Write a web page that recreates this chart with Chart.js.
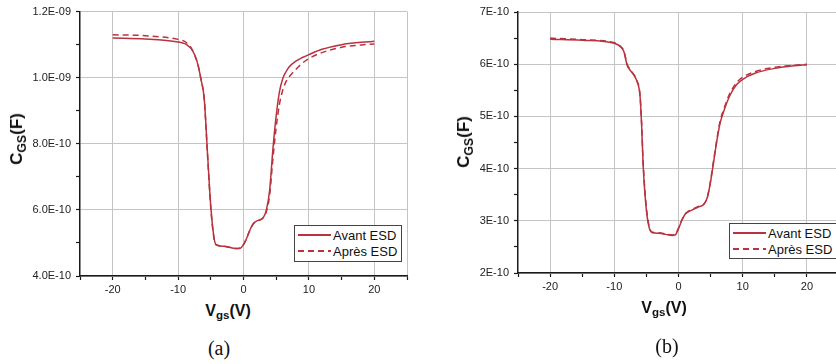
<!DOCTYPE html>
<html>
<head>
<meta charset="utf-8">
<script src="https://cdn.jsdelivr.net/npm/chart.js@4/dist/chart.umd.min.js"></script>
<style>
  body { margin: 0; width: 836px; height: 364px; overflow: hidden; position: relative; background: #fff; font-family: 'Liberation Sans', Arial, sans-serif; }
  canvas { position: absolute; top: 0; }
  .ytitle, .xtitle { position: absolute; font-weight: bold; color: #111; white-space: nowrap; }
  .ytitle { font-size: 17px; transform: translate(-50%, -50%) rotate(-90deg); }
  .xtitle { font-size: 16px; transform: translate(-50%, -50%); }
  .sub { font-size: 0.72em; position: relative; top: 0.3em; }
  .caption { position: absolute; font-family: 'Liberation Serif', 'Times New Roman', serif; font-size: 20px; color: #111; transform: translate(-50%, -50%); }
  .legend { position: absolute; border: 1px solid #444; background: #fff; font-size: 13px; color: #111; padding: 1px 3px; box-sizing: border-box; }
  .legend .row { display: flex; align-items: center; height: 16px; }
  .legend .sample { width: 33px; height: 1.6px; margin-right: 2px; }
</style>
</head>
<body>
<canvas id="chartA" width="420" height="300" style="left:0px"></canvas>
<canvas id="chartB" width="422" height="300" style="left:420px"></canvas>

<div class="ytitle" style="left:17px; top:139px">C<span class="sub">GS</span>(F)</div>
<div class="xtitle" style="left:228px; top:311px">V<span class="sub">gs</span>(V)</div>
<div class="caption" style="left:219px; top:348px">(a)</div>
<div id="legendA" class="legend" style="left:294px; top:225px; width:108px; height:37px"></div>

<div class="ytitle" style="left:464px; top:142px">C<span class="sub">GS</span>(F)</div>
<div class="xtitle" style="left:664px; top:308px">V<span class="sub">gs</span>(V)</div>
<div class="caption" style="left:667px; top:346px">(b)</div>
<div id="legendB" class="legend" style="left:729px; top:223px; width:110px; height:36px"></div>

<script>
// C-V curves before / after ESD stress
// capacitance values are in units of 1E-10 F

const seriesLabels = ['Avant ESD', 'Après ESD'];
const lineColor = '#b9323e';

// x axis (shared by both plots)
const xTickValues = [-25, -20, -15, -10, -5, 0, 5, 10, 15, 20, 25];
const xTickLabels = ['', '-20', '', '-10', '', '0', '', '10', '', '20', ''];

// plot (a)
const vgsA = [-20, -15, -10, -9, -8.5, -8, -7.5, -7, -6.5, -6,
  -5.5, -5, -4.5, -4.2, -3, -2, -1, -0.5, 0, 0.5,
  1, 1.5, 2, 3, 3.5, 4, 4.5, 5, 5.5, 6,
  6.5, 7, 8, 9, 10, 12, 15, 18, 20];
const avantA = [11.20, 11.17, 11.08, 11.03, 10.97, 10.88, 10.70, 10.42, 9.95, 9.35,
  7.70, 6.10, 5.15, 4.95, 4.90, 4.86, 4.83, 4.84, 4.95, 5.15,
  5.40, 5.58, 5.66, 5.76, 6.00, 6.60, 7.85, 8.85, 9.58, 9.97,
  10.18, 10.33, 10.50, 10.61, 10.70, 10.86, 11.00, 11.07, 11.10];
const apresA = [11.30, 11.27, 11.16, 11.10, 11.02, 10.90, 10.70, 10.42, 9.95, 9.35,
  7.65, 6.05, 5.12, 4.95, 4.90, 4.86, 4.83, 4.85, 4.95, 5.15,
  5.40, 5.58, 5.66, 5.76, 5.95, 6.45, 7.55, 8.50, 9.20, 9.62,
  9.88, 10.03, 10.25, 10.44, 10.58, 10.76, 10.92, 10.99, 11.02];
const yTickValuesA = [4e-10, 5e-10, 6e-10, 7e-10, 8e-10, 9e-10, 1.0e-9, 1.1e-9, 1.2e-9];
const yTickLabelsA = ['4.0E-10', '', '6.0E-10', '', '8.0E-10', '', '1.0E-09', '', '1.2E-09'];

// plot (b)
const vgsB = [-20, -15, -10, -9, -8.5, -8, -7.5, -7, -6.5, -6,
  -5.75, -5.5, -5, -4.5, -4, -3, -2, -1, -0.5, 0,
  0.5, 1, 1.5, 2, 3, 4, 4.5, 5, 5.5, 6,
  6.5, 7, 8, 9, 10, 12, 15, 18, 20];
const avantB = [6.48, 6.46, 6.40, 6.33, 6.24, 5.98, 5.88, 5.80, 5.68, 5.40,
  4.85, 4.05, 3.20, 2.84, 2.77, 2.76, 2.74, 2.72, 2.73, 2.85,
  3.00, 3.12, 3.17, 3.20, 3.26, 3.32, 3.45, 3.75, 4.15, 4.55,
  4.88, 5.08, 5.40, 5.60, 5.71, 5.83, 5.92, 5.97, 5.99];
const apresB = [6.50, 6.47, 6.41, 6.34, 6.25, 6.00, 5.89, 5.81, 5.69, 5.42,
  4.88, 4.10, 3.25, 2.86, 2.78, 2.77, 2.75, 2.73, 2.74, 2.86,
  3.01, 3.13, 3.18, 3.21, 3.27, 3.33, 3.46, 3.77, 4.18, 4.58,
  4.92, 5.12, 5.44, 5.64, 5.75, 5.86, 5.94, 5.98, 6.00];
const yTickValuesB = [2e-10, 2.5e-10, 3e-10, 3.5e-10, 4e-10, 4.5e-10, 5e-10, 5.5e-10, 6e-10, 6.5e-10, 7e-10];
const yTickLabelsB = ['2E-10', '', '3E-10', '', '4E-10', '', '5E-10', '', '6E-10', '', '7E-10'];

function toPoints(xs, ys) {
  return xs.map((x, i) => ({ x: x, y: ys[i] * 1e-10 }));
}

// grid line only on labelled ticks (and the far edge of the frame)
function gridColor(labels) {
  return (ctx) => {
    if (ctx.type !== 'tick') return 'transparent';
    if (labels[ctx.index] !== '' || ctx.index === labels.length - 1) return '#c4c4c4';
    return 'transparent';
  };
}

function makeScale(values, labels, fitSize, isX) {
  return {
    type: 'linear',
    min: values[0],
    max: values[values.length - 1],
    afterBuildTicks: (scale) => {
      scale.ticks = values.map((v) => ({ value: v }));
    },
    afterFit: (scale) => {
      if (isX) scale.height = fitSize;
      else scale.width = fitSize;
    },
    border: { color: '#1a1a1a', width: 1.5 },
    grid: {
      color: gridColor(labels),
      lineWidth: 1,
      drawTicks: true,
      tickLength: 4,
      tickColor: '#1a1a1a',
      tickWidth: 1.2,
    },
    ticks: {
      autoSkip: false,
      maxRotation: 0,
      padding: isX ? 3 : 5,
      color: '#222',
      font: { family: "'Liberation Sans', Arial, sans-serif", size: 11 },
      callback: (value, index) => labels[index],
    },
  };
}

function makeChart(canvasId, vgs, avant, apres, yValues, yLabels, yWidth, xHeight, padding) {
  const ctx = document.getElementById(canvasId).getContext('2d');
  return new Chart(ctx, {
    type: 'line',
    data: {
      datasets: [
        {
          label: seriesLabels[0],
          data: toPoints(vgs, avant),
          borderColor: lineColor,
          borderWidth: 1.5,
          pointRadius: 0,
          cubicInterpolationMode: 'monotone',
        },
        {
          label: seriesLabels[1],
          data: toPoints(vgs, apres),
          borderColor: lineColor,
          borderWidth: 1.5,
          borderDash: [6, 4],
          pointRadius: 0,
          cubicInterpolationMode: 'monotone',
        },
      ],
    },
    options: {
      responsive: false,
      animation: false,
      layout: { padding: padding },
      plugins: {
        legend: { display: false },
        tooltip: { enabled: false },
      },
      scales: {
        x: makeScale(xTickValues, xTickLabels, xHeight, true),
        y: makeScale(yValues, yLabels, yWidth, false),
      },
    },
  });
}

// HTML legend, built from the dataset labels
function renderLegend(id) {
  const box = document.getElementById(id);
  seriesLabels.forEach((label, i) => {
    const row = document.createElement('div');
    row.className = 'row';
    const sample = document.createElement('span');
    sample.className = 'sample';
    sample.style.background = i === 0
      ? lineColor
      : `repeating-linear-gradient(to right, ${lineColor} 0 6px, transparent 6px 10px)`;
    const text = document.createElement('span');
    text.textContent = label;
    row.appendChild(sample);
    row.appendChild(text);
    box.appendChild(row);
  });
}

makeChart('chartA', vgsA, avantA, apresA, yTickValuesA, yTickLabelsA, 80, 24,
  { left: 0, top: 11, right: 13, bottom: 0 });
makeChart('chartB', vgsB, avantB, apresB, yTickValuesB, yTickLabelsB, 98, 27,
  { left: 0, top: 12, right: 2, bottom: 0 });

renderLegend('legendA');
renderLegend('legendB');
</script>
</body>
</html>
